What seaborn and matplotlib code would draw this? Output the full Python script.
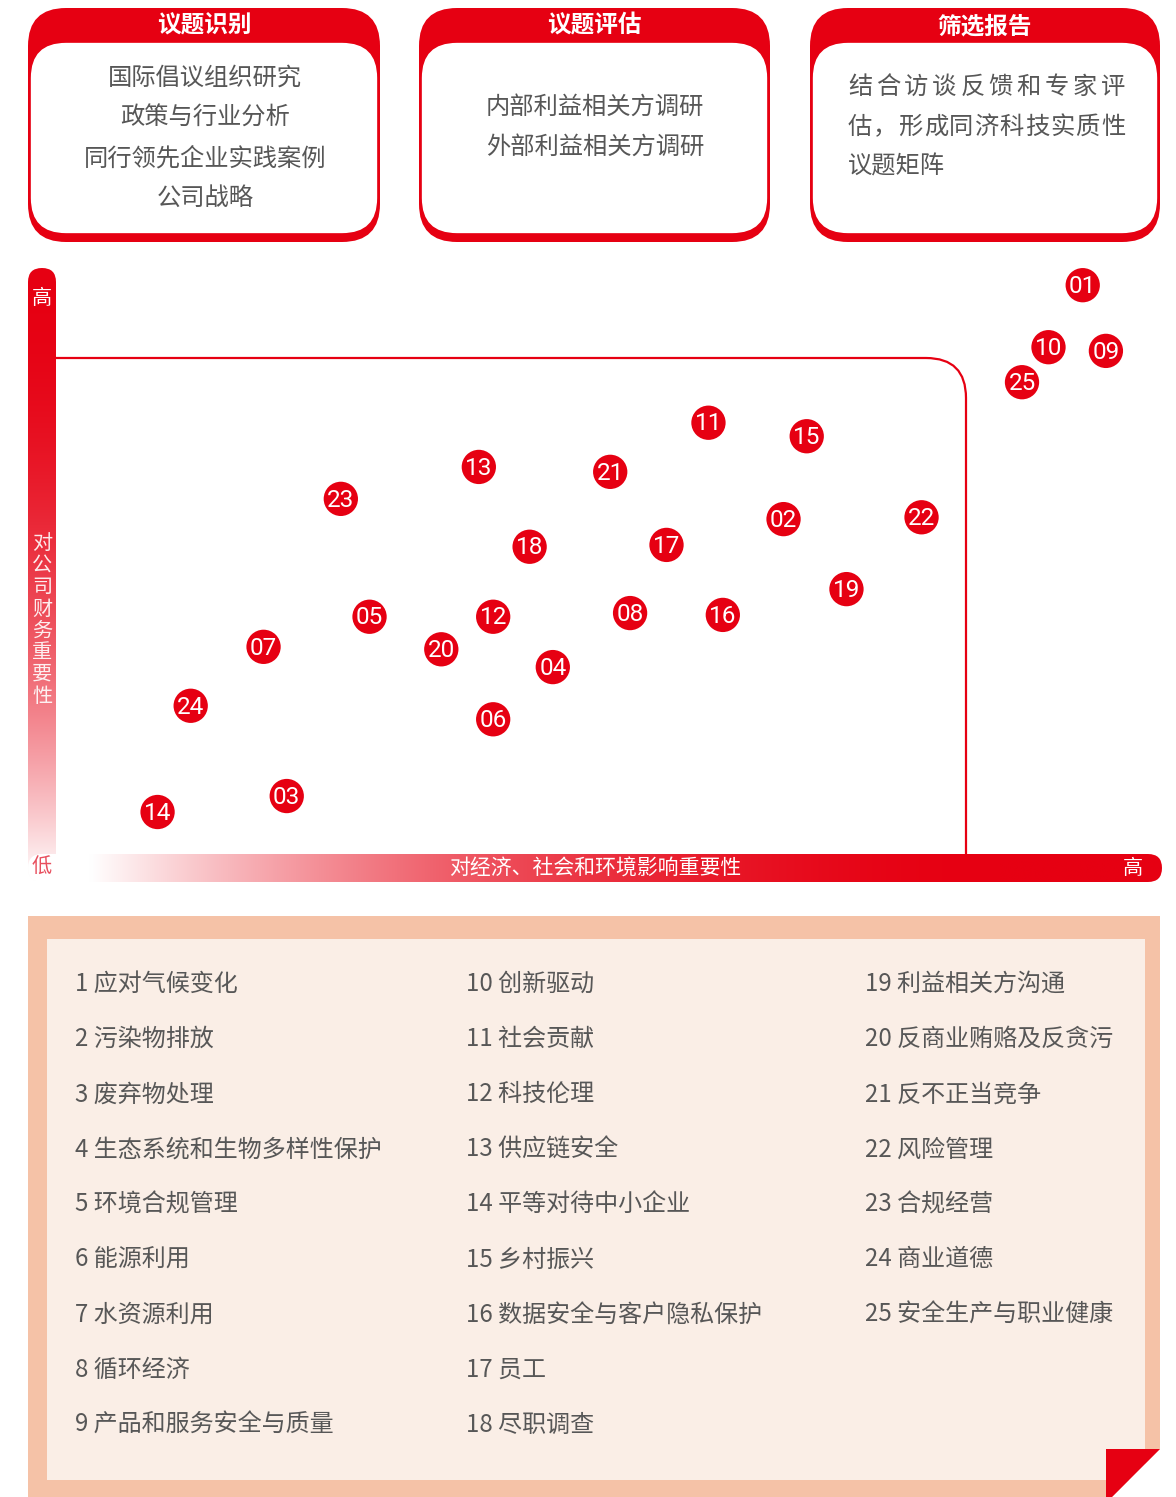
import matplotlib
matplotlib.use("Agg")
import matplotlib.pyplot as plt
from matplotlib.patches import FancyBboxPatch, Rectangle, Polygon, PathPatch
from matplotlib.path import Path
import numpy as np
import pandas as pd
import seaborn as sns

# issue names (numbered 1..25)
topics = [
    "应对气候变化", "污染物排放", "废弃物处理", "生态系统和生物多样性保护", "环境合规管理",
    "能源利用", "水资源利用", "循环经济", "产品和服务安全与质量", "创新驱动",
    "社会贡献", "科技伦理", "供应链安全", "平等对待中小企业", "乡村振兴",
    "数据安全与客户隐私保护", "员工", "尽职调查", "利益相关方沟通", "反商业贿赂及反贪污",
    "反不正当竞争", "风险管理", "合规经营", "商业道德", "安全生产与职业健康",
]
# importance to economy/society/environment (x) and to company finance (y), 0-100
impact = [93.0, 65.9, 20.9, 45.0, 28.4, 39.6, 18.8, 52.0, 95.1, 89.9,
          59.1, 39.6, 38.3, 9.2, 68.0, 60.4, 55.3, 42.9, 71.6, 34.9,
          50.2, 78.4, 25.8, 12.2, 87.5]
financial = [97.2, 59.1, 14.0, 35.0, 43.2, 26.5, 38.3, 43.8, 86.5, 87.1,
             74.8, 43.2, 67.6, 11.4, 72.6, 43.5, 54.9, 54.6, 47.7, 37.9,
             66.8, 59.4, 62.4, 28.7, 81.4]

step_titles = ["议题识别", "议题评估", "筛选报告"]
step_lines = [
    ["国际倡议组织研究", "政策与行业分析", "同行领先企业实践案例", "公司战略"],
    ["内部利益相关方调研", "外部利益相关方调研"],
    ["结合访谈反馈和专家评", "估，形成同济科技实质性", "议题矩阵"],
]
x_label = "对经济、社会和环境影响重要性"
y_label = "对公司财务重要性"

RED = "#E60012"
GREY = "#575757"

sns.set_theme(style="white")
plt.rcParams["font.family"] = ["Noto Sans CJK SC", "DejaVu Sans"]

W, H = 1176, 1497
fig = plt.figure(figsize=(W / 100, H / 100), dpi=100)
bg = fig.add_axes([0, 0, 1, 1])
bg.axis("off")

# ---- top process boxes
box_x = [(28, 380), (419, 770), (810, 1160)]
for (x0, x1), title, lines in zip(box_x, step_titles, step_lines):
    bg.add_patch(FancyBboxPatch((x0, 8), x1 - x0, 234,
                                boxstyle="round,pad=0,rounding_size=38",
                                fc=RED, ec="none"))
    bg.add_patch(FancyBboxPatch((x0 + 2, 42), x1 - x0 - 4, 192,
                                boxstyle="round,pad=0,rounding_size=36",
                                fc="white", ec=RED, lw=1.2))
    bg.text((x0 + x1) / 2, 26, title, color="white", fontsize=17,
            fontweight="bold", ha="center", va="center")

FS = 17.5
for i, line in enumerate(step_lines[0]):
    bg.text(205, 78 + 40 * i, line, color=GREY, fontsize=FS, ha="center", va="center")
for i, line in enumerate(step_lines[1]):
    bg.text(595, 107 + 40 * i, line, color=GREY, fontsize=FS, ha="center", va="center")
# third box: left aligned, first two lines justified to the same width
for j, line in enumerate(step_lines[2][:2]):
    for cx, ch in zip(np.linspace(860, 1113, len(line)), line):
        bg.text(cx, 87 + 40 * j, ch, color=GREY, fontsize=FS, ha="center", va="center")
bg.text(848, 167, step_lines[2][2], color=GREY, fontsize=FS, ha="left", va="center")

# ---- matrix frame line
verts = [(56, 358), (926, 358), (966, 358), (966, 398), (966, 858)]
codes = [Path.MOVETO, Path.LINETO, Path.CURVE3, Path.CURVE3, Path.LINETO]
bg.add_patch(PathPatch(Path(verts, codes), fc="none", ec=RED, lw=1.6))

red_rgb = np.array(matplotlib.colors.to_rgb(RED))


def blend(f):
    f = np.clip(f, 0, 1)[..., None]
    rgb = f * red_rgb + (1 - f) * np.ones(3)
    return np.concatenate([rgb, np.ones(f.shape)], axis=-1)


# vertical gradient bar
ys = np.linspace(268, 882, 300)
fv = 1 - ((ys - 268) / 614) ** 2.1
vpatch = FancyBboxPatch((28, 268), 28, 614, boxstyle="round,pad=0,rounding_size=14",
                        fc="none", ec="none")
bg.add_patch(vpatch)
im = bg.imshow(blend(fv)[:, None, :], extent=(28, 56, 268, 882), origin="lower",
               aspect="auto", interpolation="bilinear")
im.set_clip_path(vpatch)

# horizontal gradient bar
xs = np.linspace(28, 1162, 600)
t = np.clip((xs - 90) / 910, 0, 1)
fh = 1 - (1 - t) ** 2
hpatch = FancyBboxPatch((28, 854), 1134, 28, boxstyle="round,pad=0,rounding_size=14",
                        fc="none", ec="none")
bg.add_patch(hpatch)
im2 = bg.imshow(blend(fh)[None, :, :], extent=(28, 1162, 854, 882), origin="lower",
                aspect="auto", interpolation="bilinear")
im2.set_clip_path(hpatch)

bg.text(42, 299, "高", color="white", fontsize=14.5, ha="center", va="center",
        fontweight="light")
bg.text(42, 620, "\n".join(y_label), color="white", alpha=0.9, fontsize=14.5,
        ha="center", va="center", linespacing=1.05, fontweight="light")
bg.text(42, 867, "低", color="#E8505F", fontsize=14.5, ha="center", va="center",
        fontweight="light")
bg.text(595, 869, x_label, color="white", fontsize=15, ha="center", va="center",
        fontweight="light")
bg.text(1133, 869, "高", color="white", fontsize=14.5, ha="center", va="center",
        fontweight="light")

# ---- legend panel
bg.add_patch(Rectangle((28, 916), 1132, 581, fc="#F5C2A7", ec="none"))
bg.add_patch(Rectangle((47, 939), 1098, 541, fc="#FAEEE6", ec="none"))
bg.add_patch(Polygon([(1160, 1449), (1160, 1497), (1112, 1497)], fc="white", ec="none"))
bg.add_patch(Polygon([(1106, 1449), (1160, 1449), (1112, 1497), (1106, 1497)],
                     fc=RED, ec="none"))

col_x = [75, 466, 865]
for i, name in enumerate(topics):
    bg.text(col_x[i // 9], 984 + 55.1 * (i % 9), f"{i + 1} {name}", color=GREY,
            fontsize=17.3, ha="left", va="center")

bg.set_xlim(0, W)
bg.set_ylim(H, 0)

# ---- scatter of issues
df = pd.DataFrame({"id": range(1, 26), "impact": impact, "financial": financial})
ax = fig.add_axes([56 / W, 1 - 882 / H, (1160 - 56) / W, (882 - 268) / H])
ax.patch.set_alpha(0)
sns.scatterplot(data=df, x="impact", y="financial", s=610, color=RED,
                edgecolor="none", linewidth=0, legend=False, ax=ax)
for c in ax.collections:
    c.set_clip_on(False)
for _, r in df.iterrows():
    ax.text(r["impact"], r["financial"] - 0.2, f"{int(r['id']):02d}", color="white",
            fontsize=17.5, ha="center", va="center",
            family=["Roboto", "DejaVu Sans"], fontstretch="condensed")
ax.set_xlim(0, 100)
ax.set_ylim(0, 100)
ax.axis("off")

fig.savefig("out.png", dpi=100)
